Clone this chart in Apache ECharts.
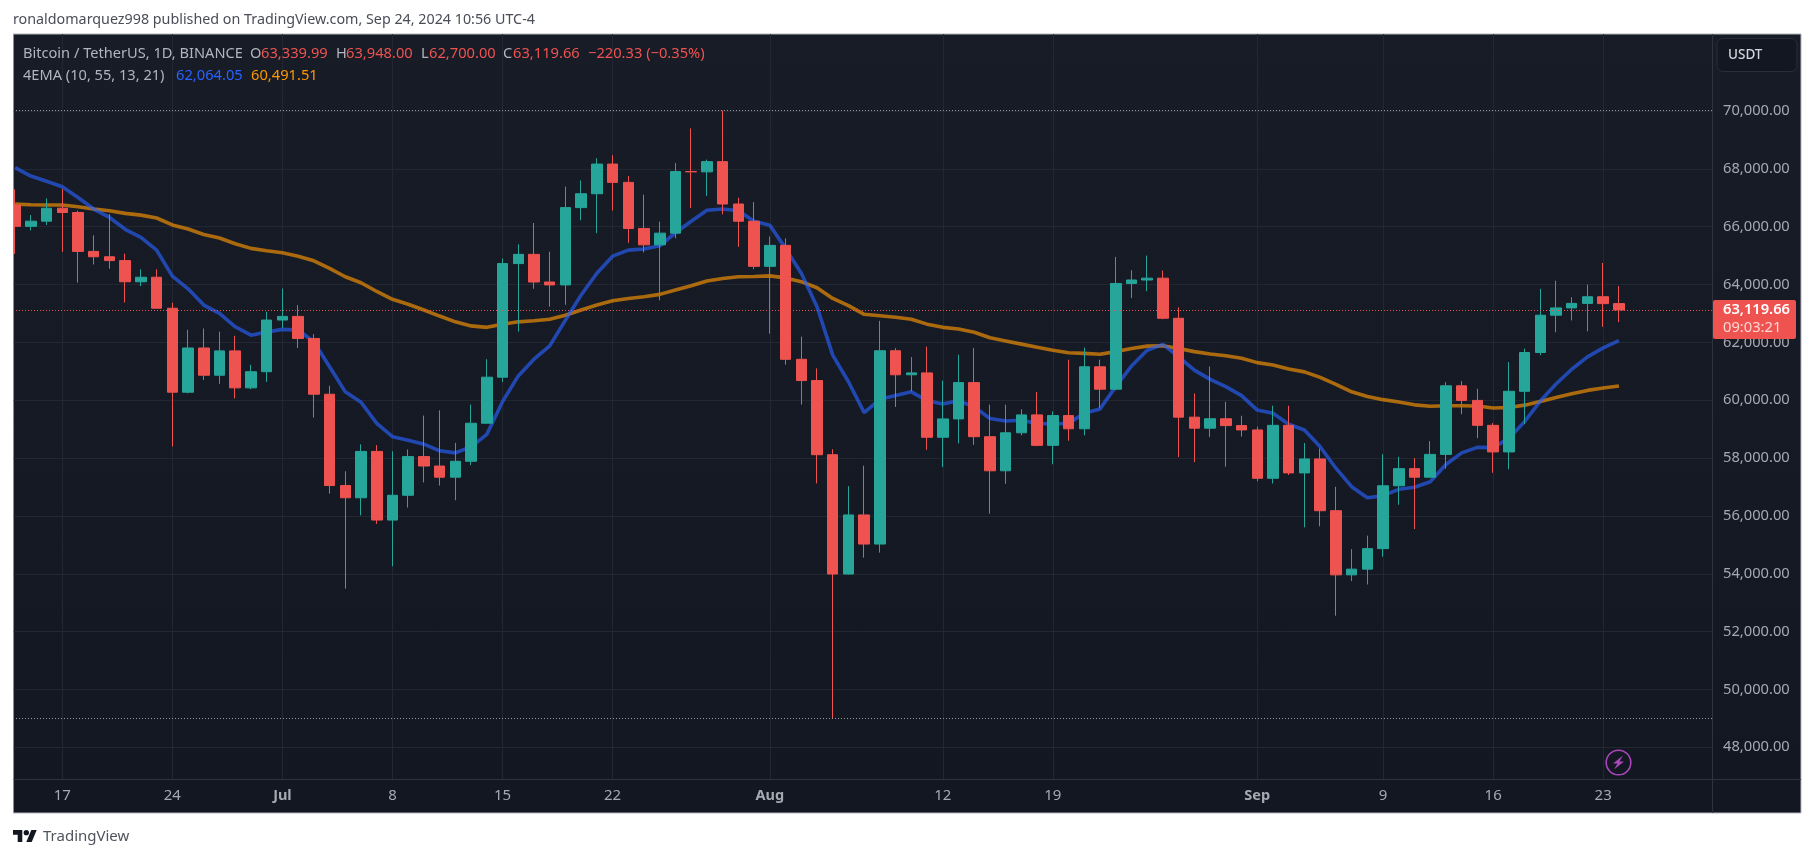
<!DOCTYPE html>
<html><head><meta charset="utf-8">
<style>html,body{margin:0;padding:0;background:#fff}#c{width:1815px;height:858px}</style>
<script src="https://cdn.jsdelivr.net/npm/echarts@6/dist/echarts.min.js"></script>
</head><body><div id="c"></div>
<script>
const FONT = '"Noto Sans"';
// Daily candles, first one is 14 Jun 2024, last one is 24 Sep 2024
const opens = [66747,66011,66191,66639,66490,65146,64960,64828,64096,64252,63180,60277,61806,60864,61706,60427,60986,62772,62899,62135,60208,57050,56628,58230,55857,56714,58050,57725,57339,57889,59204,60797,64724,65043,64087,63987,66660,67139,68165,67532,65936,65372,65777,67907,67896,68249,66784,66188,64628,65354,61415,60680,58116,53991,56034,55027,61710,60880,60945,58719,59354,60609,58739,57560,58874,59493,58439,59470,59013,61156,60381,64037,64157,64220,62834,59415,59034,59359,59123,58973,57301,59132,57487,57970,56180,53962,54160,54869,57042,57635,57338,58127,60498,59993,59132,58213,60309,61649,62940,63192,63348,63578,63339.99];
const highs = [67294,66402,66978,67298,66556,65700,66438,65066,64525,64527,63369,62435,62480,62370,62225,61224,63058,63861,63288,62285,60498,57546,58475,58449,58236,58296,59470,59650,58526,59850,61420,64900,65388,66128,65133,67386,67598,68366,68474,67750,67102,66175,68200,69399,68318,70016,67000,66849,65659,65596,62198,61100,58305,57029,57736,62745,61800,61490,61855,60680,61572,61800,59849,59847,59686,60284,59617,61400,61820,61400,64955,64494,65000,64481,63212,60234,61166,59944,59462,59086,59809,59809,58519,58327,57008,54850,55318,58133,58044,58000,58588,60625,60660,60395,59210,61320,61786,63850,64133,63559,64000,64745,63948];
const lows = [65056,65871,66060,65130,64066,64693,64547,63379,63943,63178,58402,60239,60700,60566,60063,60383,60632,62497,61806,59400,56771,53485,56018,55724,54260,56289,57157,57050,56542,57756,59194,60632,62373,63854,63238,63300,66222,65777,66559,65441,65111,63456,65600,66650,67066,66428,65302,64530,62302,61230,59850,57122,49000,53973,54558,54730,59767,60311,58286,57688,58506,58456,56078,57110,58785,58408,57787,58600,58783,59724,60345,63531,63773,62800,58034,57860,58723,57701,58744,57201,57120,57415,55606,55643,52550,53745,53629,54590,56386,55543,57324,57632,59517,58691,57493,57610,59174,61555,62350,62758,62379,62538,62700];
const closes = [66011,66191,66639,66490,65146,64960,64828,64096,64252,63180,60277,61806,60864,61706,60427,60986,62772,62899,62135,60208,57050,56628,58230,55857,56714,58050,57725,57339,57889,59204,60797,64724,65043,64087,63987,66660,67139,68165,67532,65936,65372,65777,67907,67896,68249,66784,66188,64628,65354,61415,60680,58116,53991,56034,55027,61710,60880,60945,58719,59354,60609,58739,57560,58874,59493,58439,59470,59013,61156,60381,64037,64157,64220,62834,59415,59034,59359,59123,58973,57301,59132,57487,57970,56180,53962,54160,54869,57042,57635,57338,58127,60498,59993,59132,58213,60309,61649,62940,63192,63348,63578,63339.99,63119.66];
const ema10 = [68040,67750,67570,67380,67010,66610,66320,65910,65630,65190,64290,63850,63290,63000,62540,62250,62360,62450,62430,62020,61160,60290,59930,59200,58740,58620,58480,58250,58180,58390,58820,59950,60840,61420,61880,62770,63640,64390,64980,65190,65230,65340,65790,66190,66570,66610,66550,66190,66050,65250,64390,63230,61560,60640,59570,60030,60160,60290,59980,59870,59980,59770,59370,59280,59310,59200,59180,59200,59550,59700,60470,61180,61730,61930,61500,61040,60720,60470,60160,59660,59550,59170,58970,58390,57650,57010,56630,56700,56920,56990,57180,57780,58180,58370,58360,58680,59260,59970,60560,61070,61500,61810,62064];
const ema55 = [66780,66760,66750,66750,66690,66610,66550,66460,66400,66300,66060,65920,65730,65610,65410,65250,65170,65100,64980,64820,64560,64270,64060,63760,63490,63320,63120,62910,62710,62570,62520,62630,62710,62750,62800,62940,63120,63290,63440,63520,63580,63660,63810,63960,64120,64210,64270,64280,64300,64230,64100,63890,63520,63270,62970,62920,62870,62800,62630,62520,62460,62350,62160,62050,61940,61830,61730,61640,61620,61590,61680,61790,61870,61880,61790,61680,61600,61540,61450,61300,61220,61080,60980,60790,60550,60290,60130,60020,59940,59840,59790,59810,59810,59800,59730,59750,59830,59960,60090,60220,60340,60420,60491];
// Tick positions are candle numbers counted from 14 Jun
const xTickDays = [3,10,17,24,31,38,48,59,66,79,87,94,101];
const xTickLabels = ['17','24','Jul','8','15','22','Aug','12','19','Sep','9','16','23'];
const months = ['Jul','Aug','Sep'];
const yTicks = [48000,50000,52000,54000,56000,58000,60000,62000,64000,66000,68000,70000];
const extremes = [70016,49000];
const lastPrice = 63119.66;

const UP='#26a69a', DOWN='#ef5350', GRID='#232732', AXT='#a6a9b2', EDGE='#2f333e';
const fmt = v => v.toLocaleString('en-US',{minimumFractionDigits:2,maximumFractionDigits:2});
const candles = opens.map((o,i)=>[i,o,closes[i],lows[i],highs[i]]);
const line = (name,vals,color)=>({type:'line',name,data:vals.map((v,i)=>[i,v]),showSymbol:false,symbol:'none',
  lineStyle:{color,width:3.6,opacity:0.64},z:1,silent:true,smooth:false});
const txt = (x,y,text,fill,size=14,weight='normal')=>({type:'text',x,y,silent:true,z:20,
  style:{text,fill,font:`${weight} ${size}px ${FONT}`,textBaseline:'middle',verticalAlign:'middle',align:'left'}});
const seg = (x1,y1,x2,y2,stroke)=>({type:'line',silent:true,z:3,shape:{x1,y1,x2,y2},style:{stroke,lineWidth:1}});
const NUM=14.7, TXT=14.6;

const chart = echarts.init(document.getElementById('c'),null,{renderer:'canvas'});
chart.setOption({
  animation:false,
  backgroundColor:'#ffffff',
  grid:{left:13,right:103,top:34,bottom:79,containLabel:false},
  xAxis:{type:'value',min:-0.134,max:107.92,
    axisLine:{show:false},
    axisTick:{show:false,customValues:xTickDays},
    splitLine:{show:true,lineStyle:{color:GRID,width:1}},
    axisLabel:{customValues:xTickDays,color:AXT,fontFamily:FONT,fontSize:15,margin:9,
      formatter:v=>{const l=xTickLabels[xTickDays.indexOf(v)]||'';return months.includes(l)?`{m|${l}}`:l;},
      rich:{m:{fontWeight:'bold',color:AXT,fontFamily:FONT,fontSize:14.5}}}},
  yAxis:{type:'value',position:'right',min:46904,max:72662,scale:true,
    axisLine:{show:false},
    axisTick:{show:false,customValues:yTicks},
    splitLine:{show:true,lineStyle:{color:GRID,width:1}},
    axisLabel:{customValues:yTicks,color:AXT,fontFamily:FONT,fontSize:NUM,margin:11,align:'left',formatter:fmt}},
  series:[
    line('EMA 55',ema55,'#ff9800'),
    line('EMA 10',ema10,'#2962ff'),
    {type:'candlestick',name:'BTCUSDT',data:candles,barWidth:11,z:2,silent:true,clip:true,
     itemStyle:{color:UP,color0:DOWN,borderColor:UP,borderColor0:DOWN,borderWidth:1},
     markLine:{silent:true,symbol:'none',label:{show:false},animation:false,z:4,
       data:[
        {yAxis:extremes[0],lineStyle:{color:'#9598a1',type:[1,2],width:1}},
        {yAxis:extremes[1],lineStyle:{color:'#9598a1',type:[1,2],width:1}},
        {yAxis:lastPrice,lineStyle:{color:DOWN,type:[1,2],width:1}}]}}
  ],
  graphic:[
    {type:'rect',silent:true,z:-5,shape:{x:13,y:34,width:1788,height:779},
     style:{stroke:'#b2b5be',lineWidth:1,fill:new echarts.graphic.LinearGradient(0,0,0,1,[{offset:0,color:'#181c27'},{offset:1,color:'#131722'}])}},
    // the first candle is cut by the panel's left edge
    {type:'rect',silent:true,z:18,shape:{x:0,y:33,width:13,height:781},style:{fill:'#ffffff'}},
    seg(13,34,13,813,'#b2b5be'),
    seg(13.5,779.5,1801,779.5,EDGE),
    seg(1712.5,34,1712.5,813,EDGE),
    txt(13,20,'ronaldomarquez998 published on TradingView.com, Sep 24, 2024 10:56 UTC-4','#4a4d57',14.3),
    txt(23,54,'Bitcoin / TetherUS, 1D, BINANCE','#b2b5be',TXT),
    txt(250,54,'O','#b2b5be',TXT), txt(261,54,'63,339.99',DOWN,NUM),
    txt(336,54,'H','#b2b5be',TXT), txt(346,54,'63,948.00',DOWN,NUM),
    txt(421,54,'L','#b2b5be',TXT), txt(429,54,'62,700.00',DOWN,NUM),
    txt(503,54,'C','#b2b5be',TXT), txt(513,54,'63,119.66',DOWN,NUM),
    txt(588,54,'−220.33 (−0.35%)',DOWN,NUM),
    txt(23,75.5,'4EMA (10, 55, 13, 21)','#b2b5be',TXT),
    txt(176,75.5,'62,064.05','#2962ff',NUM),
    txt(251,75.5,'60,491.51','#ff9800',NUM),
    {type:'rect',silent:true,z:19,shape:{x:1717,y:38.5,width:80,height:33,r:6},style:{fill:'#131722',stroke:'#2a2e39',lineWidth:1}},
    txt(1728,55,'USDT','#d1d4dc',13.5,'500'),
    {type:'rect',silent:true,z:19,shape:{x:1713,y:300,width:83,height:39,r:2},style:{fill:DOWN}},
    txt(1723,310,'63,119.66','#ffffff',NUM,'600'),
    txt(1723,328,'09:03:21','#fbd7d6',NUM),
    {type:'circle',silent:true,z:19,shape:{cx:1618.5,cy:762.5,r:12.3},style:{fill:'transparent',stroke:'#ab47bc',lineWidth:1.6}},
    {type:'polygon',silent:true,z:19,shape:{points:[[1623,755.5],[1613,763.5],[1617.5,763.5],[1614,769.5],[1624,761.5],[1619.5,761.5]]},style:{fill:'#ab47bc'}},
    {type:'polygon',silent:true,z:19,shape:{points:[[13,830],[22.3,830],[22.3,842],[17.7,842],[17.7,834.7],[13,834.7]]},style:{fill:'#131722'}},
    {type:'polygon',silent:true,z:19,shape:{points:[[26.3,842],[31.3,830],[36.7,830],[31.7,842]]},style:{fill:'#131722'}},
    {type:'circle',silent:true,z:19,shape:{cx:26.3,cy:832.7,r:2.67},style:{fill:'#131722'}},
    txt(43,837,'TradingView','#50535e',15)
  ]
});
</script></body></html>
